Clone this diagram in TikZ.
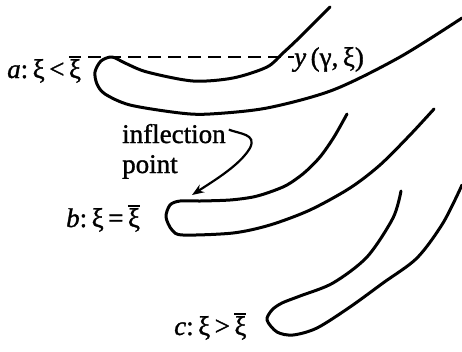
\documentclass[tikz,border=0pt]{standalone}
\usepackage{fontspec}
\setmainfont{Liberation Serif}[UprightFeatures={FakeBold=1.2},ItalicFeatures={FakeBold=1.2}]
\usetikzlibrary{arrows.meta}
\newcommand{\xibar}{\leavevmode\vbox{\hrule height 1.8pt\kern 1.5pt\hbox{ξ}}}
\begin{document}
\begin{tikzpicture}[x=1pt,y=-1pt,
  curve/.style={line width=3pt, line cap=round, line join=round},
  lbl/.style={font=\fontsize{27}{30}\selectfont, inner sep=0pt, anchor=base west},
  arr/.style={line width=2.2pt, -{Stealth[length=12pt,width=9pt]}},
  dash line/.style={line width=2.2pt, dash pattern=on 13pt off 7pt}]
\useasboundingbox (0,0) rectangle (462,351);
% curve a
\draw[curve] plot[smooth] coordinates {(330,7) (300,37) (283,53) (267,67) (233,78) (193,81) (147,72) (125,63) (112,57) (101,61) (95,72) (97,84) (105,94) (130,105) (180,113) (210,114) (267,108) (333,90) (400,57) (462,18)};
% curve b
\draw[curve] plot[smooth] coordinates {(347,114) (334,137) (320,157) (304,173) (287,185) (270,192) (253,197) (230,200) (200,201) (180,201) (170,205) (166,217) (172,230) (183,235) (233,233) (270,225) (310,210) (350,188) (380,165) (410,135) (434,109)};
% curve c
\draw[curve] plot[smooth] coordinates {(401,191) (393,218) (367,257) (333,283) (300,296) (282,303) (272,310) (267,320) (277,332) (293,335) (317,328) (350,307) (383,283) (417,258) (443,223) (462,185)};
% labels
\node[lbl] (la) at (7,78) {\textit{a}:\,ξ\,<\,\xibar};
\node[lbl] (ly) at (294,66) {\textit{y}\,(γ,\,ξ)};
\node[lbl] (lb) at (66,227) {\textit{b}:\,ξ\,=\,\xibar};
\node[lbl] (lc) at (174,335) {\textit{c}:\,ξ\,>\,\xibar};
\node[lbl] (in1) at (122,143) {inflection};
\node[lbl] (in2) at (122,173) {point};
% dashed level line
\coordinate (dl) at (88,57);
\draw[dash line] (dl) -- (ly.west |- dl);
% arrow to inflection point
\coordinate (ip) at (192,195);
\draw[arr] (in1.east) ++(3,-4) .. controls (240,134) and (257,134) .. (250,148) .. controls (240,165) and (215,180) .. (ip);
\end{tikzpicture}
\end{document}
